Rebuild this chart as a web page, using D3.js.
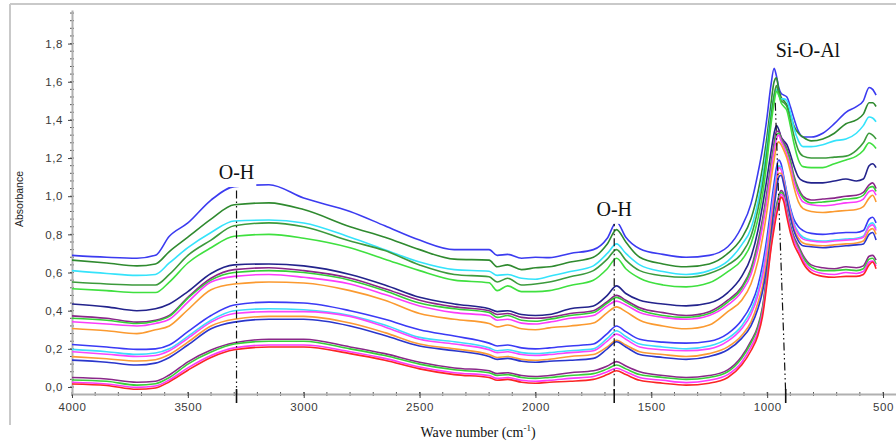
<!DOCTYPE html>
<html><head><meta charset="utf-8">
<script src="https://cdn.jsdelivr.net/npm/d3@7"></script>
<style>html,body{margin:0;padding:0;background:#fff;} svg{display:block;}</style>
</head><body>
<svg id="chart" width="896" height="442"></svg>
<script>
// ---------------- DATA ----------------
const wavenumbers = [4000, 3850, 3720, 3640, 3580, 3500, 3400, 3300, 3150, 3000,
  2800, 2650, 2500, 2350, 2200, 2165, 2120, 2060, 2000, 1940,
  1850, 1750, 1690, 1650, 1610, 1550, 1450, 1350, 1250, 1170,
  1110, 1070, 1040, 1020, 1000, 985, 970, 960, 950, 940,
  928, 915, 900, 885, 865, 845, 810, 760, 710, 660,
  615, 585, 560, 545, 530];

const sampleA1 = [.69,.68,.675,.69,.79,.86,.98,1.05,1.06,.99,
  .92,.845,.77,.72,.72,.69,.695,.675,.68,.678,
  .70,.72,.78,.865,.785,.725,.695,.68,.69,.735,
  .84,.96,1.12,1.25,1.42,1.57,1.67,1.63,1.57,1.54,
  1.53,1.52,1.47,1.41,1.34,1.31,1.31,1.33,1.38,1.44,
  1.47,1.50,1.57,1.56,1.53];
const sampleA2 = [.665,.65,.635,.645,.71,.785,.88,.955,.965,.93,
  .84,.785,.72,.67,.665,.63,.64,.615,.625,.63,
  .655,.68,.75,.825,.76,.68,.645,.63,.645,.70,
  .78,.88,1.02,1.15,1.32,1.47,1.60,1.62,1.56,1.52,
  1.50,1.48,1.43,1.37,1.33,1.31,1.29,1.30,1.33,1.38,
  1.40,1.43,1.49,1.49,1.47];
const sampleA3 = [.61,.595,.585,.59,.65,.73,.81,.87,.875,.86,
  .785,.72,.655,.615,.607,.585,.59,.57,.565,.58,
  .605,.635,.70,.75,.70,.64,.605,.59,.61,.66,
  .745,.83,.97,1.10,1.27,1.42,1.53,1.56,1.53,1.51,
  1.51,1.50,1.44,1.36,1.29,1.26,1.26,1.27,1.29,1.30,
  1.33,1.37,1.415,1.41,1.39];
const sampleA4 = [.55,.54,.535,.535,.59,.69,.77,.845,.86,.84,
  .765,.715,.64,.59,.578,.55,.57,.535,.54,.55,
  .578,.61,.67,.72,.665,.61,.583,.575,.595,.64,
  .70,.79,.93,1.06,1.24,1.40,1.53,1.58,1.54,1.50,
  1.49,1.47,1.40,1.32,1.24,1.21,1.20,1.20,1.205,1.21,
  1.24,1.28,1.33,1.32,1.30];
const sampleA5 = [.515,.505,.495,.495,.55,.65,.73,.79,.80,.78,
  .73,.67,.61,.56,.546,.505,.53,.50,.50,.505,
  .532,.56,.62,.675,.62,.57,.535,.525,.546,.605,
  .665,.75,.88,1.01,1.19,1.36,1.49,1.55,1.53,1.49,
  1.47,1.45,1.37,1.28,1.19,1.155,1.15,1.15,1.17,1.19,
  1.21,1.24,1.28,1.27,1.25];

const sampleB1 = [.435,.42,.40,.41,.435,.50,.595,.64,.645,.635,
  .59,.535,.47,.435,.41,.395,.40,.38,.375,.38,
  .41,.425,.48,.53,.49,.455,.435,.425,.44,.495,
  .58,.68,.82,.95,1.10,1.22,1.33,1.37,1.35,1.31,
  1.29,1.27,1.22,1.16,1.10,1.08,1.07,1.07,1.08,1.09,
  1.08,1.09,1.16,1.17,1.15];
const sampleB2 = [.373,.36,.34,.35,.375,.47,.57,.615,.625,.61,
  .57,.515,.455,.42,.40,.38,.385,.365,.36,.365,
  .385,.40,.447,.48,.455,.415,.39,.375,.395,.455,
  .525,.62,.76,.88,1.03,1.16,1.28,1.34,1.34,1.31,
  1.28,1.25,1.19,1.11,1.04,1.00,.98,.985,.99,1.00,
  1.005,1.02,1.06,1.07,1.04];
const sampleB3 = [.36,.35,.333,.345,.37,.465,.56,.60,.61,.60,
  .56,.505,.44,.41,.39,.365,.375,.35,.345,.355,
  .375,.39,.44,.47,.445,.405,.375,.365,.385,.445,
  .515,.61,.74,.86,1.01,1.14,1.26,1.32,1.33,1.30,
  1.27,1.24,1.18,1.10,1.03,.99,.965,.97,.975,.985,
  .99,1.005,1.045,1.05,1.025];
const sampleB4 = [.342,.33,.32,.333,.355,.445,.55,.58,.59,.575,
  .54,.485,.425,.39,.373,.35,.355,.335,.33,.34,
  .36,.375,.425,.45,.43,.39,.365,.355,.375,.43,
  .50,.59,.72,.84,.99,1.12,1.24,1.30,1.32,1.29,
  1.26,1.22,1.16,1.08,1.01,.97,.955,.95,.955,.965,
  .97,.985,1.025,1.03,1.005];
const sampleB5 = [.307,.295,.28,.30,.32,.405,.51,.54,.55,.545,
  .505,.455,.385,.355,.333,.315,.325,.305,.30,.31,
  .32,.335,.39,.42,.395,.35,.32,.305,.325,.395,
  .455,.54,.66,.78,.93,1.07,1.19,1.26,1.285,1.27,
  1.24,1.20,1.13,1.05,.97,.935,.92,.915,.92,.925,
  .93,.945,.99,1.005,.97];

const sampleC1 = [.223,.21,.197,.20,.22,.29,.375,.43,.445,.44,
  .40,.355,.30,.267,.23,.215,.22,.205,.20,.205,
  .215,.225,.28,.32,.29,.25,.235,.23,.24,.28,
  .35,.43,.53,.64,.79,.93,1.07,1.15,1.19,1.17,
  1.10,1.02,.94,.88,.84,.82,.805,.80,.805,.81,
  .81,.82,.88,.89,.86];
const sampleC2 = [.197,.185,.171,.178,.20,.265,.35,.40,.41,.405,
  .375,.325,.26,.237,.205,.19,.195,.18,.175,.18,
  .19,.20,.255,.295,.265,.225,.21,.20,.215,.255,
  .32,.40,.50,.60,.75,.89,1.03,1.11,1.16,1.15,
  1.09,1.01,.93,.86,.81,.785,.77,.765,.77,.775,
  .78,.79,.85,.86,.83];
const sampleC3 = [.185,.172,.16,.165,.19,.255,.34,.385,.395,.395,
  .37,.315,.25,.225,.195,.18,.185,.17,.165,.17,
  .18,.19,.24,.277,.25,.21,.195,.19,.20,.24,
  .305,.38,.48,.58,.73,.87,1.01,1.09,1.15,1.14,
  1.08,1.00,.92,.85,.80,.775,.765,.76,.765,.77,
  .775,.785,.84,.85,.82];
const sampleC4 = [.159,.148,.136,.143,.17,.235,.32,.355,.37,.37,
  .335,.285,.225,.20,.17,.155,.16,.145,.14,.145,
  .16,.17,.21,.245,.22,.185,.17,.16,.175,.21,
  .27,.34,.44,.53,.68,.82,.97,1.06,1.12,1.12,
  1.07,.99,.90,.83,.78,.755,.745,.74,.745,.75,
  .755,.765,.82,.83,.80];
const sampleC5 = [.141,.13,.115,.125,.155,.22,.305,.34,.355,.355,
  .32,.27,.215,.19,.16,.145,.15,.135,.13,.135,
  .14,.15,.20,.237,.21,.17,.155,.145,.16,.195,
  .255,.32,.41,.50,.64,.78,.94,1.03,1.10,1.11,
  1.06,.98,.89,.82,.765,.74,.735,.73,.735,.74,
  .745,.75,.80,.81,.77];

const sampleD1 = [.05,.042,.025,.03,.063,.132,.194,.232,.25,.25,
  .21,.175,.13,.10,.085,.07,.075,.06,.055,.06,
  .075,.085,.11,.133,.11,.08,.06,.05,.06,.09,
  .16,.24,.32,.42,.60,.75,.87,.95,1.00,1.03,
  1.01,.93,.85,.79,.74,.69,.64,.625,.62,.63,
  .625,.635,.685,.69,.665];
const sampleD2 = [.037,.03,.01,.017,.05,.12,.183,.225,.24,.24,
  .20,.165,.12,.09,.075,.06,.065,.05,.045,.05,
  .06,.07,.095,.115,.095,.065,.05,.04,.05,.08,
  .15,.23,.31,.41,.59,.74,.86,.94,.99,1.02,
  1.00,.92,.84,.78,.73,.68,.63,.61,.61,.615,
  .61,.62,.67,.675,.645];
const sampleD3 = [.025,.016,-.002,.005,.037,.10,.165,.205,.22,.22,
  .185,.15,.105,.075,.06,.045,.05,.035,.03,.035,
  .045,.055,.08,.098,.08,.05,.035,.023,.035,.065,
  .13,.21,.29,.39,.57,.72,.85,.92,.97,1.01,
  .99,.91,.83,.77,.72,.665,.615,.595,.59,.60,
  .595,.605,.655,.66,.635];
const sampleD4 = [.016,.008,-.012,-.005,.027,.088,.155,.195,.21,.21,
  .175,.14,.095,.065,.05,.035,.04,.025,.02,.025,
  .03,.04,.065,.085,.065,.035,.02,.01,.02,.05,
  .115,.19,.27,.37,.55,.71,.83,.90,.95,.995,
  .97,.89,.81,.75,.70,.65,.60,.58,.575,.58,
  .58,.59,.64,.655,.62];

const seriesList = [
  {values: sampleA1, color: "#3b3bf0"},
  {values: sampleA2, color: "#2f8a2f"},
  {values: sampleA3, color: "#35e3fb"},
  {values: sampleA4, color: "#3c9a3c"},
  {values: sampleA5, color: "#3fe03f"},
  {values: sampleB1, color: "#23238c"},
  {values: sampleB2, color: "#8a268a"},
  {values: sampleB3, color: "#35d035"},
  {values: sampleB4, color: "#fb3cfb"},
  {values: sampleB5, color: "#fb9a30"},
  {values: sampleC1, color: "#3a3af5"},
  {values: sampleC2, color: "#3ddcfb"},
  {values: sampleC3, color: "#fb45fb"},
  {values: sampleC4, color: "#fb9a35"},
  {values: sampleC5, color: "#2a36cc"},
  {values: sampleD1, color: "#8a288a"},
  {values: sampleD2, color: "#38d038"},
  {values: sampleD3, color: "#fb38fb"},
  {values: sampleD4, color: "#fb2525"}
];

const xTicks = [4000, 3500, 3000, 2500, 2000, 1500, 1000, 500];
const yTicks = [0, 0.2, 0.4, 0.6, 0.8, 1.0, 1.2, 1.4, 1.6, 1.8];
const yTickLabels = ["0,0","0,2","0,4","0,6","0,8","1,0","1,2","1,4","1,6","1,8"];

// annotation bands: label, label position (wavenumber, absorbance), marker line start/end
const bandLabels = ["O-H", "O-H", "Si-O-Al"];
const bandLabelPos = [[3290, 1.09], [1660, 0.897], [824, 1.73]];
const bandLineTop = [[3290, 1.03], [1660, 0.885], [965, 1.49]];
const bandLineBottom = [[3290, -0.0367], [1660, -0.0367], [920, -0.0367]];

// ---------------- CHART ----------------
const svg = d3.select("#chart");
const x = d3.scaleLinear().domain([4000, 444]).range([72, 896]);
const y = d3.scaleLinear().domain([-0.0367, 1.976]).range([394, 10]);

// outer frame (top & left)
svg.append("line").attr("x1", 10).attr("x2", 896).attr("y1", 4).attr("y2", 4)
  .attr("stroke", "#c9c9c9").attr("stroke-width", 2);
svg.append("line").attr("x1", 10).attr("x2", 10).attr("y1", 4).attr("y2", 425)
  .attr("stroke", "#c9c9c9").attr("stroke-width", 2);

// minor ticks
const gMinor = svg.append("g");
d3.range(4000, 443, -100).forEach(w => {
  gMinor.append("line").attr("x1", x(w)).attr("x2", x(w)).attr("y1", 392).attr("y2", 396)
    .attr("stroke", "#555").attr("stroke-width", 1);
});
d3.range(0, 1.97, 0.04).forEach(v => {
  gMinor.append("line").attr("x1", 70).attr("x2", 74).attr("y1", y(v)).attr("y2", y(v))
    .attr("stroke", "#555").attr("stroke-width", 1);
});

// axes
const xAxis = d3.axisBottom(x).tickValues(xTicks).tickSize(4).tickSizeOuter(0).tickFormat(d3.format("d"));
const gx = svg.append("g").attr("transform", "translate(0,394)").call(xAxis);
gx.select(".domain").attr("stroke", "#b0b0b0").attr("stroke-width", 2);
gx.selectAll(".tick line").attr("stroke", "#444").attr("y1", -2);
gx.selectAll(".tick text").attr("fill", "#3a3a3a").attr("font-size", 11.5)
  .attr("font-family", "Liberation Sans, Arial, sans-serif").attr("letter-spacing", "0.6px").attr("dy", "0.9em");

const yAxis = d3.axisLeft(y).tickValues(yTicks).tickSize(4).tickSizeOuter(0)
  .tickFormat((d, i) => yTickLabels[i]);
const gy = svg.append("g").attr("transform", "translate(72,0)").call(yAxis);
gy.select(".domain").attr("stroke", "#b0b0b0").attr("stroke-width", 2);
gy.selectAll(".tick line").attr("stroke", "#444");
gy.selectAll(".tick text").attr("fill", "#3a3a3a").attr("font-size", 11.5)
  .attr("font-family", "Liberation Sans, Arial, sans-serif").attr("letter-spacing", "0.6px").attr("x", -9);

// axis titles
svg.append("text").attr("transform", "translate(23,199) rotate(-90)")
  .attr("text-anchor", "middle").attr("font-family", "Liberation Sans, Arial, sans-serif")
  .attr("font-size", 10.5).attr("fill", "#222").text("Absorbance");
const xt = svg.append("text").attr("x", 478).attr("y", 437).attr("text-anchor", "middle")
  .attr("font-family", "Liberation Serif, Times New Roman, serif").attr("font-size", 14).attr("fill", "#111");
xt.append("tspan").text("Wave number (cm");
xt.append("tspan").attr("font-size", 9).attr("dy", -6).text("-1");
xt.append("tspan").attr("dy", 6).text(")");

// spectra
const line = d3.line()
  .x((d, i) => x(wavenumbers[i]))
  .y(d => y(d))
  .curve(d3.curveMonotoneX);
svg.append("g").selectAll("path").data(seriesList).join("path")
  .attr("d", s => line(s.values))
  .attr("fill", "none")
  .attr("stroke", s => s.color)
  .attr("stroke-width", 1.6)
  .attr("stroke-linejoin", "round");

// band markers
const gBand = svg.append("g");
bandLabels.forEach((lab, i) => {
  gBand.append("line")
    .attr("x1", x(bandLineTop[i][0])).attr("y1", y(bandLineTop[i][1]))
    .attr("x2", x(bandLineBottom[i][0])).attr("y2", y(bandLineBottom[i][1]))
    .attr("stroke", "#111").attr("stroke-width", 1.2)
    .attr("stroke-dasharray", "8,3,1.5,3,1.5,3");
  const bx = x(bandLineBottom[i][0]);
  gBand.append("line").attr("x1", bx).attr("x2", bx).attr("y1", 389).attr("y2", 403)
    .attr("stroke", "#111").attr("stroke-width", 1.6);
  const lx = x(bandLabelPos[i][0]), ly = y(bandLabelPos[i][1]);
  const t = gBand.append("text")
    .attr("x", lx).attr("y", ly)
    .attr("text-anchor", "middle")
    .attr("font-family", "Liberation Serif, Times New Roman, serif")
    .attr("font-size", 20).attr("fill", "#111").text(lab);
  const bb = t.node().getBBox();
  gBand.insert("rect", () => t.node())
    .attr("x", bb.x - 2).attr("y", bb.y + 2).attr("width", bb.width + 4).attr("height", bb.height + 2)
    .attr("fill", "#fff");
});
</script>
</body></html>
